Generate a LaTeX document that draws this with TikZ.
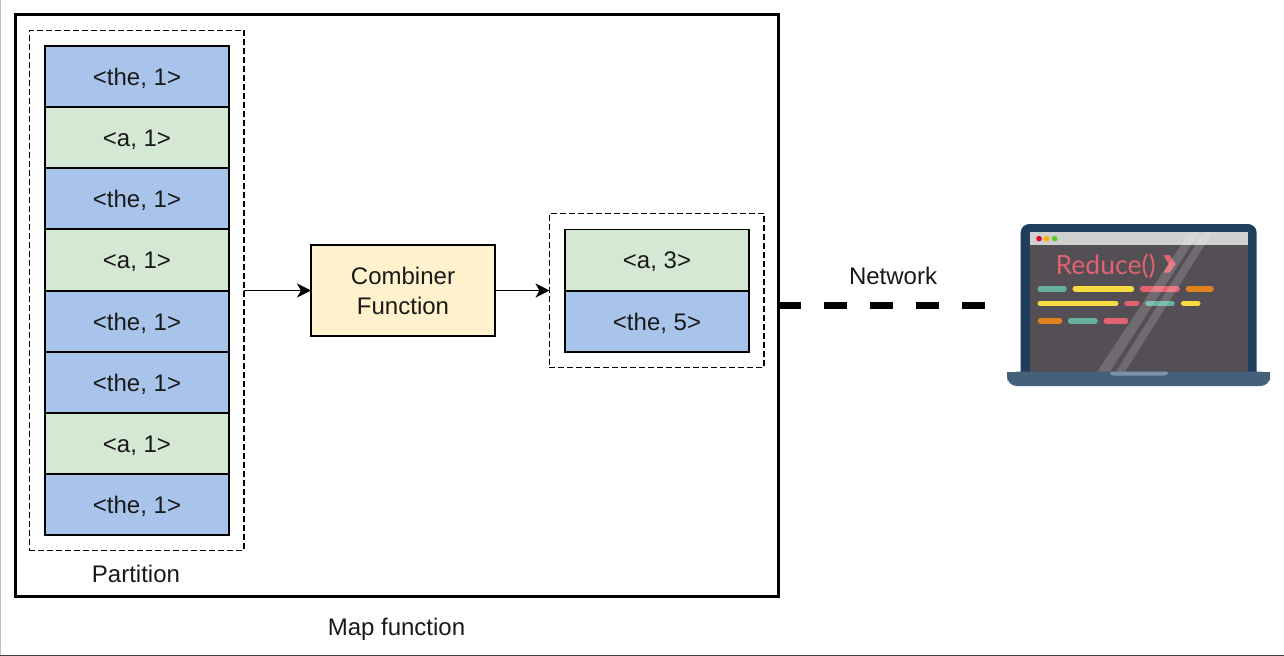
\documentclass[tikz,border=0pt]{standalone}
\usepackage{fontspec}
\setmainfont{Liberation Sans}
\newfontfamily\codefont{Lato}
\usetikzlibrary{arrows.meta}
\definecolor{blueCell}{HTML}{A9C4EB}
\definecolor{greenCell}{HTML}{D5E8D4}
\definecolor{yellowCell}{HTML}{FFF2CC}
\definecolor{lapDark}{HTML}{1F3D5C}
\definecolor{lapBase}{HTML}{44617C}
\definecolor{lapNotch}{HTML}{7C93AA}
\definecolor{lapScreen}{HTML}{544E55}
\definecolor{lapBar}{HTML}{D0D0D0}
\definecolor{cTeal}{HTML}{66B29C}
\definecolor{cYellow}{HTML}{F6DC3F}
\definecolor{cRed}{HTML}{E0636F}
\definecolor{cOrange}{HTML}{E2821E}
\definecolor{dotRed}{HTML}{E8002A}
\definecolor{dotOrange}{HTML}{FFB000}
\definecolor{dotGreen}{HTML}{5CC82A}
\tikzset{
  base/.style={inner sep=0pt,outer sep=0pt,align=center,text=black!90,font=\fontsize{18}{22.5}\selectfont},
  cell/.style={base,draw=black,line width=1.1pt,minimum width=138pt,minimum height=45.75pt,text height=13pt,text depth=0pt},
  bluecell/.style={cell,fill=blueCell},
  greencell/.style={cell,fill=greenCell},
  dashbox/.style={base,draw=black,line width=1.1pt,dash pattern=on 4.5pt off 2.25pt},
  label/.style={base},
  flow/.style={draw=black,line width=1.3pt,-{Stealth[length=10.5pt,width=10.5pt,inset=3pt]}},
  code/.style={line width=4.25pt,line cap=round}
}
\begin{document}
\begin{tikzpicture}[x=0.75pt,y=-0.75pt]
\useasboundingbox (0,0) rectangle (1284,656);
\fill[white] (0,0) rectangle (1284,656);
\draw[black!25,line width=1pt] (0.5,0) -- (0.5,656);
\draw[black!75,line width=1pt] (0,655.5) -- (1284,655.5);

\node[base,draw=black,line width=2.25pt,minimum width=572.6pt,minimum height=435.75pt] (main) at (396.75,305.5) {};
\node[dashbox,minimum width=160.9pt,minimum height=390pt] (part) at (136.75,290.5) {};
\node[dashbox,minimum width=160.9pt,minimum height=115.5pt] (res) at (656.75,290.5) {};

\node[bluecell]  (c1) at (137,76.5)  {<the, 1>};
\node[greencell] (c2) at (137,137.5) {<a, 1>};
\node[bluecell]  (c3) at (137,198.5) {<the, 1>};
\node[greencell] (c4) at (137,260)   {<a, 1>};
\node[bluecell]  (c5) at (137,321.5) {<the, 1>};
\node[bluecell]  (c6) at (137,382.5) {<the, 1>};
\node[greencell] (c7) at (137,443.5) {<a, 1>};
\node[bluecell]  (c8) at (137,504.5) {<the, 1>};

\node[greencell] (r1) at (657,260)   {<a, 3>};
\node[bluecell]  (r2) at (657,321.5) {<the, 5>};

\node[base,draw=black,line width=1.1pt,fill=yellowCell,minimum width=138pt,minimum height=68.25pt] (comb) at (403,290.5) {Combiner\\Function};

\node[label] (partlabel) at (136,574) {Partition};
\node[label] (maplabel) at (396.5,629.5) {Map function};
\node[label] (netlabel) at (893,276) {Network};

\draw[flow] (part.east) -- (comb.west);
\draw[flow] (comb.east) -- (res.west);

\coordinate (netend) at (986,305);
\draw[black,line width=5.25pt,dash pattern=on 17.25pt off 17.25pt] (main.east |- netend) -- (netend);

% laptop, in units of the 3x crop
\begin{scope}[shift={(990,210)},x=0.25pt,y=-0.25pt]
  \fill[lapDark,rounded corners=6.5pt] (92,42) rectangle (800,520);
  \fill[lapScreen] (119,67) rectangle (774,486);
  \fill[lapBar] (119,67) rectangle (774,104);
  \fill[dotRed] (147,86) circle[radius=8.5];
  \fill[dotOrange] (170,86) circle[radius=8.5];
  \fill[dotGreen] (194,86) circle[radius=8.5];
  \node[inner sep=0pt,outer sep=0pt,text=cRed,font=\codefont\fontsize{19.9}{21}\selectfont] (reduce) at (347,168) {Reduce()};
  \fill[cRed] (520,135) -- (538,135) -- (557,162) -- (538,188) -- (520,188) -- (536,162) -- cycle;
  \draw[code,cTeal] (151,236) -- (222,236);
  \draw[code,cYellow] (256,236) -- (424,236);
  \draw[code,cRed] (458,236) -- (561,236);
  \draw[code,cOrange] (596,236) -- (663,236);
  \draw[code,cYellow] (151,280) -- (377,280);
  \draw[code,cRed] (411,280) -- (440,280);
  \draw[code,cTeal] (474,280) -- (546,280);
  \draw[code,cYellow] (581,280) -- (623,280);
  \draw[code,cOrange] (152,332) -- (208,332);
  \draw[code,cTeal] (242,332) -- (315,332);
  \draw[code,cRed] (349,332) -- (406,332);
  \fill[white,opacity=.17] (322,485) -- (598,67) -- (628,67) -- (360,485) -- cycle;
  \fill[white,opacity=.17] (378,485) -- (640,67) -- (668,67) -- (405,485) -- cycle;
  \fill[lapBase,rounded corners=7pt] (52,485) -- (52,528) -- (840,528) -- (840,485) -- cycle;
  \fill[lapBase] (52,485) rectangle (840,505);
  \fill[lapNotch,rounded corners=2pt] (357,485) -- (365,497) -- (529,497) -- (537,485) -- cycle;
\end{scope}
\end{tikzpicture}
\end{document}
